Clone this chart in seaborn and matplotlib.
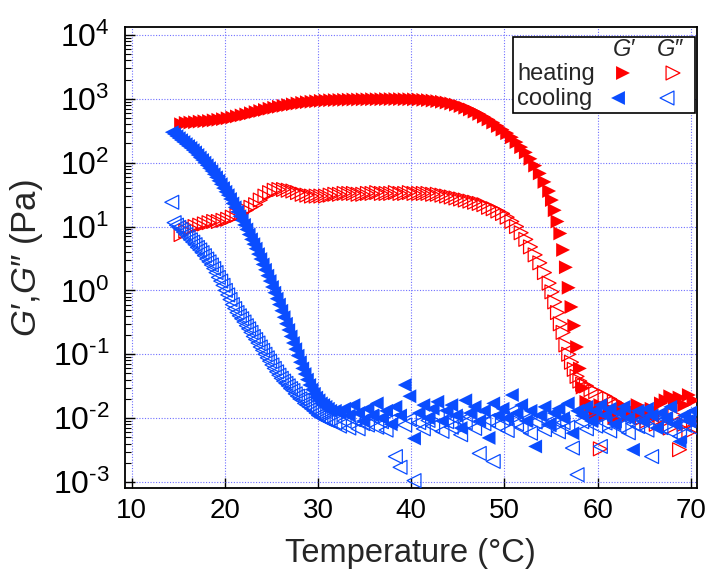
import numpy as np
import matplotlib
matplotlib.use("Agg")
import matplotlib.pyplot as plt
import seaborn as sns
from matplotlib.ticker import NullFormatter, FixedLocator, FuncFormatter
from matplotlib.patches import Rectangle

# ---------------- data ----------------
heat_T = [15.3, 15.8, 16.3, 16.8, 17.3, 17.8, 18.3, 18.8, 19.3, 19.8,
          20.3, 20.8, 21.3, 21.8, 22.3, 22.8, 23.3, 23.8, 24.3, 24.8,
          25.3, 25.8, 26.3, 26.8, 27.3, 27.8, 28.3, 28.8, 29.3, 29.8,
          30.3, 30.8, 31.3, 31.8, 32.3, 32.8, 33.3, 33.8, 34.3, 34.8,
          35.3, 35.8, 36.3, 36.8, 37.3, 37.8, 38.3, 38.8, 39.3, 39.8,
          40.3, 40.8, 41.3, 41.8, 42.3, 42.8, 43.3, 43.8, 44.3, 44.8,
          45.3, 45.8, 46.3, 46.8, 47.3, 47.8, 48.3, 48.8, 49.3, 49.8,
          50.3, 50.8, 51.3, 51.8, 52.3, 52.8, 53.3, 53.8, 54.3, 54.8,
          55.1, 55.4, 55.7, 56.0, 56.3, 56.6, 56.9, 57.2, 57.5, 57.8, 58.1, 58.4,
          58.8, 59.3, 59.8, 60.3, 60.8, 61.3, 61.8, 62.3, 62.8, 63.3,
          63.8, 64.3, 64.8, 65.3, 65.8, 66.3, 66.8, 67.3, 67.8, 68.3,
          68.8, 69.3, 69.8, 70.3]

heat_Gp = [400, 420, 425, 430, 440, 445, 450, 460, 470, 480,
           495, 510, 530, 550, 570, 595, 620, 645, 670, 700,
           725, 750, 775, 800, 820, 845, 865, 885, 900, 915,
           930, 940, 950, 955, 960, 965, 970, 975, 975, 980,
           980, 985, 985, 985, 990, 990, 990, 990, 985, 985,
           980, 975, 965, 955, 940, 920, 900, 875, 845, 810,
           770, 725, 680, 630, 580, 525, 475, 425, 375, 330,
           290, 250, 210, 175, 145, 115, 90, 68, 50, 36,
           26, 18, 12, 7.8, 4.3, 2.3, 1.1, 0.55, 0.28, 0.13, 0.06, 0.03,
           0.018, 0.014, 0.012, 0.016, 0.011, 0.014, 0.010, 0.013, 0.015, 0.011,
           0.013, 0.016, 0.012, 0.010, 0.014, 0.012, 0.017, 0.019, 0.022, 0.018,
           0.021, 0.016, 0.023, 0.019]

heat_Gpp = [7.5, 8.5, 9.5, 10, 10.5, 11, 11.5, 12, 12, 12.5,
            13, 14, 15, 16, 18, 20, 22, 26, 30, 34,
            37, 38, 38, 37, 36, 34, 32, 31, 30, 30,
            30, 30, 31, 32, 32, 33, 33, 33, 32, 32,
            33, 33, 34, 33, 33, 33, 34, 33, 33, 34,
            33, 33, 33, 33, 32, 32, 31, 30, 29, 28,
            27, 26, 25, 24, 23, 22, 20, 19, 17.5, 16,
            14, 12, 10, 8, 6.3, 4.8, 3.6, 2.7, 1.9, 1.3,
            0.95, 0.66, 0.45, 0.3, 0.22, 0.14, 0.1, 0.075, 0.058, 0.045, 0.038, 0.034,
            0.032, 0.028, 0.026, 0.0033, 0.022, 0.02, 0.018, 0.016, 0.015, 0.013,
            0.012, 0.011, 0.01, 0.009, 0.011, 0.008, 0.01, 0.009, 0.007, 0.011,
            0.0032, 0.008, 0.006, 0.009]

cool_T = [14.3, 14.55, 14.8, 15.05, 15.3, 15.55, 15.8, 16.05, 16.3, 16.55,
          16.8, 17.05, 17.3, 17.55, 17.8, 18.05, 18.3, 18.55, 18.8, 19.05,
          19.3, 19.55, 19.8, 20.05, 20.3, 20.55, 20.8, 21.05, 21.3, 21.55,
          21.8, 22.05, 22.3, 22.55, 22.8, 23.05, 23.3, 23.55, 23.8, 24.05,
          24.3, 24.55, 24.8, 25.05, 25.3, 25.55, 25.8, 26.05, 26.3, 26.55,
          26.8, 27.05, 27.3, 27.55, 27.8, 28.05, 28.3, 28.55, 28.8, 29.05,
          29.3, 29.55, 29.8, 30.05, 30.3, 30.55, 30.8, 31.05, 31.3,
          31.8, 32.3, 32.8, 33.3, 33.8,
          34.3, 34.8, 35.3, 35.8, 36.3, 36.8, 37.3, 37.8, 38.3, 38.8,
          39.3, 39.8, 40.3, 40.8, 41.3, 41.8, 42.3, 42.8, 43.3, 43.8,
          44.3, 44.8, 45.3, 45.8, 46.3, 46.8, 47.3, 47.8, 48.3, 48.8,
          49.3, 49.8, 50.3, 50.8, 51.3, 51.8, 52.3, 52.8, 53.3, 53.8,
          54.3, 54.8, 55.3, 55.8, 56.3, 56.8, 57.3, 57.8, 58.3, 58.8,
          59.3, 59.8, 60.3, 60.8, 61.3, 61.8, 62.3, 62.8, 63.3, 63.8,
          64.3, 64.8, 65.3, 65.8, 66.3, 66.8, 67.3, 67.8, 68.3, 68.8,
          69.3, 69.8, 70.3]

cool_Gp = [300, 280, 260, 242, 225, 210, 195, 182, 170, 157,
           145, 132, 120, 110, 100, 91, 82, 74, 66, 59,
           52, 46, 40, 35, 31, 27, 23, 20, 17, 14.5,
           12.5, 10.6, 9, 7.5, 6.3, 5.3, 4.5, 3.7, 3.1, 2.55,
           2.1, 1.7, 1.4, 1.13, 0.92, 0.74, 0.6, 0.48, 0.38, 0.3,
           0.24, 0.19, 0.15, 0.12, 0.095, 0.075, 0.06, 0.049, 0.04, 0.033,
           0.028, 0.024, 0.021, 0.019, 0.017, 0.016, 0.015, 0.014, 0.013,
           0.013, 0.012, 0.014, 0.011, 0.016,
           0.012, 0.009, 0.014, 0.011, 0.017, 0.010, 0.013, 0.008, 0.015, 0.011,
           0.033, 0.022, 0.0048, 0.012, 0.016, 0.010, 0.014, 0.018, 0.009, 0.013,
           0.016, 0.011, 0.007, 0.019, 0.012, 0.015, 0.009, 0.013, 0.0049, 0.017,
           0.011, 0.014, 0.010, 0.023, 0.012, 0.016, 0.009, 0.013, 0.0036, 0.011,
           0.015, 0.008, 0.012, 0.014, 0.010, 0.017, 0.0058, 0.013, 0.011, 0.015,
           0.009, 0.013, 0.016, 0.011, 0.014, 0.008, 0.012, 0.015, 0.010, 0.0032,
           0.013, 0.009, 0.014, 0.011, 0.007, 0.012, 0.010, 0.015, 0.008, 0.0043,
           0.011, 0.009, 0.013]

cool_Gpp = [24, 11.5, 10.5, 9.7, 9, 8.2, 7.5, 6.8, 6.2, 5.7,
            5.2, 4.7, 4.3, 3.9, 3.5, 3.1, 2.8, 2.5, 2.2, 1.9,
            1.6, 1.4, 1.2, 1.0, 0.85, 0.72, 0.6, 0.52, 0.45, 0.4,
            0.36, 0.32, 0.28, 0.25, 0.22, 0.19, 0.17, 0.15, 0.13, 0.115,
            0.1, 0.088, 0.078, 0.068, 0.06, 0.053, 0.047, 0.042, 0.038, 0.035,
            0.032, 0.029, 0.027, 0.024, 0.022, 0.02, 0.019, 0.017, 0.016, 0.015,
            0.014, 0.013, 0.012, 0.011, 0.0105, 0.01, 0.0095, 0.0092, 0.009,
            0.0085, 0.0075, 0.009, 0.007, 0.0095,
            0.0068, 0.0082, 0.0078, 0.0105, 0.0072, 0.0088, 0.0065, 0.0092, 0.0025, 0.0017,
            0.0078, 0.0095, 0.00105, 0.0085, 0.0068, 0.0092, 0.0075, 0.011, 0.0062, 0.0088,
            0.0072, 0.0098, 0.0055, 0.0085, 0.0105, 0.0069, 0.0028, 0.0082, 0.0092, 0.0021,
            0.0076, 0.0098, 0.0064, 0.0126, 0.0081, 0.0071, 0.0095, 0.0058, 0.0087, 0.0102,
            0.0066, 0.0079, 0.0093, 0.0061, 0.0085, 0.0072, 0.0034, 0.0013, 0.0088, 0.0068,
            0.0097, 0.0075, 0.0036, 0.0084, 0.0063, 0.0091, 0.0072, 0.0105, 0.0059, 0.0082,
            0.0074, 0.0093, 0.0065, 0.0025, 0.0088, 0.0071, 0.0096, 0.0062, 0.0083, 0.0052,
            0.0078, 0.0091, 0.0068]

x_ticks = [10, 20, 30, 40, 50, 60, 70]
y_decades = [-3, -2, -1, 0, 1, 2, 3, 4]
legend_rows = ["heating", "cooling"]
legend_cols = ["$\\mathit{G}$\u2032", "$\\mathit{G}$\u2033"]
y_label = "$\\mathit{G}$\u2032,$\\mathit{G}$\u2033 (Pa)"
x_label = "Temperature (°C)"

RED = "#ff0000"
BLUE = "#0a4dff"

# ---------------- style ----------------
sns.set_theme(style="white")
plt.rcParams["font.family"] = ["Liberation Sans", "DejaVu Sans"]
plt.rcParams["mathtext.fontset"] = "custom"
plt.rcParams["mathtext.rm"] = "Liberation Sans"
plt.rcParams["mathtext.it"] = "Liberation Sans:italic"
plt.rcParams["mathtext.default"] = "regular"
plt.rcParams["axes.unicode_minus"] = False

fig = plt.figure(figsize=(7.11, 5.77), dpi=100)
W, H = 711.0, 577.0
L, R, T, B = 125.0, 696.7, 27.3, 488.3
ax = fig.add_axes([L / W, 1 - B / H, (R - L) / W, (B - T) / H])

S = 100
LW_OPEN = 0.9
sns.scatterplot(x=heat_T, y=heat_Gp, marker=">", s=S, color=RED,
                edgecolor="none", linewidth=0, ax=ax, zorder=3)
sns.scatterplot(x=heat_T, y=heat_Gpp, marker=">", s=S, facecolor="none",
                edgecolor=RED, linewidth=LW_OPEN, ax=ax, zorder=3)
sns.scatterplot(x=cool_T, y=cool_Gp, marker="<", s=S, color=BLUE,
                edgecolor="none", linewidth=0, ax=ax, zorder=3)
sns.scatterplot(x=cool_T, y=cool_Gpp, marker="<", s=S, facecolor="none",
                edgecolor=BLUE, linewidth=LW_OPEN, ax=ax, zorder=3)

ax.set_yscale("log")
ax.set_xlim(9.28, 70.64)
ax.set_ylim(10 ** -3.099, 10 ** 4.12)
ax.xaxis.set_major_locator(FixedLocator(x_ticks))
major_y = [10.0 ** e for e in y_decades]
minor_y = [m * 10.0 ** e for e in y_decades[:-1] for m in range(2, 10)]
minor_y += [m * 1e4 for m in (1.1, 1.2, 1.3) if m * 1e4 < 10 ** 4.12]
minor_y = [v for v in minor_y if v not in major_y]
ax.yaxis.set_major_locator(FixedLocator(major_y))
ax.yaxis.set_minor_locator(FixedLocator([v for v in minor_y if v < 1e4]))
ax.yaxis.set_minor_formatter(NullFormatter())


def decade_label(v, pos):
    e = int(round(np.log10(v)))
    return "$10^{%s}$" % str(e).replace("-", "\u2010")


ax.yaxis.set_major_formatter(FuncFormatter(decade_label))

ax.grid(True, which="major", color="#7070ff", linestyle=(0, (1, 1.5)), linewidth=0.8, zorder=0)
ax.set_axisbelow(True)

ax.tick_params(axis="both", which="both", direction="in", colors="black",
               left=True, bottom=True, top=False, right=False)
ax.tick_params(axis="both", which="major", length=7, width=1.0, pad=7)
ax.tick_params(axis="y", which="minor", length=4, width=0.8)
ax.tick_params(axis="x", labelsize=20)
ax.tick_params(axis="y", labelsize=23, pad=11)
for sp in ax.spines.values():
    sp.set_color("black")
    sp.set_linewidth(1.3)

ax.set_xlabel(x_label, fontsize=23.5, labelpad=10)
ax.set_ylabel(y_label, fontsize=25, labelpad=6)

# ---------------- legend table ----------------
def fx(px):
    return (px - L) / (R - L)

def fy(py):
    return 1 - (py - T) / (B - T)

ax.add_patch(Rectangle((fx(513.3), fy(113.3)), fx(695) - fx(513.3), fy(37.3) - fy(113.3),
                       transform=ax.transAxes, facecolor="white", edgecolor="black",
                       linewidth=1.2, zorder=5, clip_on=False))
ax.text(fx(624), fy(50), legend_cols[0], transform=ax.transAxes, fontsize=17,
        ha="center", va="center", zorder=6)
ax.text(fx(670), fy(50), legend_cols[1], transform=ax.transAxes, fontsize=17,
        ha="center", va="center", zorder=6)
ax.text(fx(517), fy(74), legend_rows[0], transform=ax.transAxes, fontsize=17,
        ha="left", va="center", zorder=6)
ax.text(fx(517), fy(99), legend_rows[1], transform=ax.transAxes, fontsize=17,
        ha="left", va="center", zorder=6)
ax.scatter([fx(623)], [fy(73)], marker=">", s=S, color=RED, edgecolor="none",
           transform=ax.transAxes, zorder=6, clip_on=False)
ax.scatter([fx(673)], [fy(73)], marker=">", s=S, facecolor="none", edgecolor=RED,
           linewidth=LW_OPEN, transform=ax.transAxes, zorder=6, clip_on=False)
ax.scatter([fx(618)], [fy(98)], marker="<", s=S, color=BLUE, edgecolor="none",
           transform=ax.transAxes, zorder=6, clip_on=False)
ax.scatter([fx(667)], [fy(98)], marker="<", s=S, facecolor="none", edgecolor=BLUE,
           linewidth=LW_OPEN, transform=ax.transAxes, zorder=6, clip_on=False)

fig.savefig("out.png", dpi=100)
